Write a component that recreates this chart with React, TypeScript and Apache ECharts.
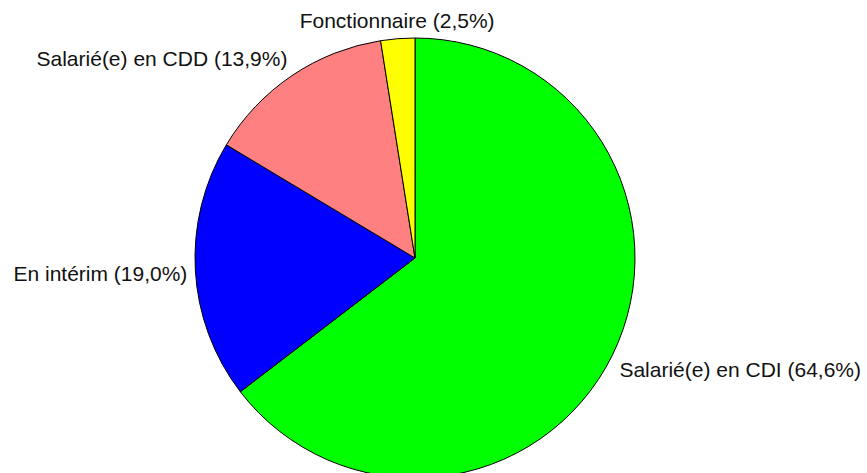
import React, { useEffect, useRef } from "react";
import * as echarts from "echarts";

const categories = ["Salarié(e) en CDI", "En intérim", "Salarié(e) en CDD", "Fonctionnaire"];
const values = [64.6, 19.0, 13.9, 2.5];
const colors = ["#00FF00", "#0000FF", "#FF8080", "#FFFF00"];

const CX = 415;
const CY = 258;
const RADIUS = 220;
const LABEL_R = 228;

export default function App() {
  const ref = useRef<HTMLDivElement>(null);
  useEffect(() => {
    if (!ref.current) return;
    const chart = echarts.init(ref.current, null, { renderer: "svg" });
    const total = values.reduce((s, v) => s + v, 0);
    const fx = (u: number) =>
      Math.sign(u) * Math.min(1, Math.max(0, (Math.abs(u) - 0.1) * 2.5));
    const fy = (u: number) => Math.max(-1, Math.min(1, u * 4.6));
    chart.setOption({
      animation: false,
      backgroundColor: "#ffffff",
      series: [
        {
          type: "pie",
          center: [CX, CY],
          radius: RADIUS,
          startAngle: 90,
          clockwise: true,
          avoidLabelOverlap: false,
          data: categories.map((name, i) => ({
            name,
            value: values[i],
            itemStyle: { color: colors[i] },
          })),
          itemStyle: { borderColor: "#000000", borderWidth: 1 },
          emphasis: { disabled: true },
          label: {
            show: true,
            position: "outside",
            fontFamily: "'Liberation Sans', Arial, sans-serif",
            fontSize: 21,
            color: "#111111",
            formatter: (p: any) =>
              `${p.name} (${Number(p.value).toFixed(1).replace(".", ",")}%)`,
          },
          labelLine: { show: false },
          labelLayout: (params: any) => {
            const i = params.dataIndex;
            let before = 0;
            for (let k = 0; k < i; k++) before += values[k];
            const mid = ((before + values[i] / 2) / total) * 2 * Math.PI;
            const ux = Math.sin(mid);
            const uy = -Math.cos(mid);
            const w = params.labelRect.width;
            const h = params.labelRect.height;
            return {
              x: CX + LABEL_R * ux + (fx(ux) * w) / 2,
              y: CY + LABEL_R * uy + (fy(uy) * h) / 2,
              align: "center",
              verticalAlign: "middle",
            };
          },
        },
      ],
    });
    return () => chart.dispose();
  }, []);
  return (
    <div
      ref={ref}
      style={{ position: "fixed", left: 0, top: 0, width: 867, height: 473 }}
    />
  );
}
